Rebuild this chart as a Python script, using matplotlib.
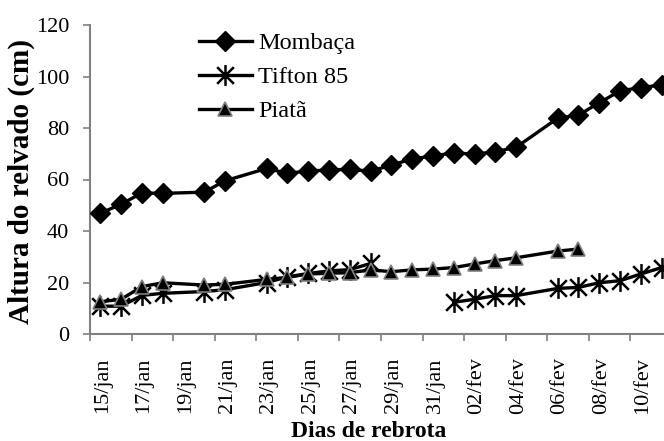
import numpy as np
import matplotlib
matplotlib.use('Agg')
import matplotlib.pyplot as plt
from matplotlib.path import Path

plt.rcParams['font.family'] = ['Liberation Serif', 'DejaVu Serif']

# dia = dias desde 15/jan (categorias diárias 15/jan .. 11/fev)
dia = [0, 1, 2, 3, 5, 6, 8, 9, 10, 11, 12, 13, 14, 15, 16, 17, 18, 19, 20,
       22, 23, 24, 25, 26, 27]
mombaca = [46.9, 50.4, 54.8, 54.6, 55.1, 59.5, 64.3, 62.4, 63.3, 63.7, 64.0, 63.2,
           65.6, 68.0, 69.1, 70.4, 69.8, 70.8, 72.5, 83.8, 85.0, 89.8, 94.4, 95.7, 96.7]
tifton = [10.8, 10.8, 15.0, 15.8, 16.5, 17.2, 20.0, 22.2, 23.5, 24.5, 25.0, 27.4,
          np.nan, np.nan, np.nan, 12.3, 13.5, 14.9, 14.9, 17.7, 18.1, 19.9, 20.7, 23.3, 25.8]
piata = [12.5, 13.5, 18.4, 19.9, 19.0, 19.3, 21.2, 22.0, 23.3, 23.6, 23.8, 24.9,
         24.2, 24.9, 25.2, 25.8, 27.2, 28.5, 29.6, 32.2, 33.0,
         np.nan, np.nan, np.nan, np.nan]
rotulos = ['15/jan', '17/jan', '19/jan', '21/jan', '23/jan', '25/jan', '27/jan',
           '29/jan', '31/jan', '02/fev', '04/fev', '06/fev', '08/fev', '10/fev']
n_dias = 28

# marcador "estrela" do Excel: X + traço vertical
estrela = Path([(-1, -1), (1, 1), (-1, 1), (1, -1), (0, -1.25), (0, 1.25)],
               [Path.MOVETO, Path.LINETO, Path.MOVETO, Path.LINETO, Path.MOVETO, Path.LINETO])

fig = plt.figure(figsize=(6.64, 4.41), dpi=100)
ax = fig.add_axes([90 / 664, 1 - 334 / 441, 582 / 664, 309 / 441])

x = np.array(dia) + 0.5
lw = 2.4
ax.plot(x, mombaca, color='black', lw=lw, marker='D', ms=10, mfc='black', mec='black',
        label='Mombaça', zorder=3)
ax.plot(x, tifton, color='black', lw=lw, marker=estrela, ms=15, mew=1.8,
        mec='black', label='Tifton 85', zorder=4)
ax.plot(x, piata, color='black', lw=lw, marker='^', ms=10, mfc='black', mec='#808080',
        mew=1.2, label='Piatã', zorder=5)

ax.set_xlim(0, n_dias)
ax.set_ylim(0, 120)
ax.set_yticks(range(0, 121, 20))

ax.set_xticks(range(0, n_dias + 1, 2))
ax.set_xticklabels([])
ax.set_xticks(np.arange(len(rotulos)) * 2 + 0.6, minor=True)
ax.set_xticklabels(rotulos, minor=True, rotation=90)
ax.tick_params(axis='x', which='minor', length=0, pad=17, labelsize=16)
ax.tick_params(axis='x', which='major', length=5, color='#808080', width=1.2)
ax.tick_params(axis='y', length=5, color='#808080', width=1.2, pad=10, labelsize=16)

for s in ['top', 'right']:
    ax.spines[s].set_visible(False)
for s in ['left', 'bottom']:
    ax.spines[s].set_color('#808080')
    ax.spines[s].set_linewidth(1.5)

fig.text(369 / 664, 1 - 437 / 441, 'Dias de rebrota', ha='center', va='baseline',
         fontsize=17, fontweight='bold')
fig.text(21 / 664, 1 - 181 / 441, 'Altura do relvado (cm)', ha='center', va='center',
         rotation=90, fontsize=21, fontweight='bold')

leg = ax.legend(loc='upper left', bbox_to_anchor=((199 - 90) / 582, 1 - 7 / 309),
                frameon=False, fontsize=17.5, handlelength=2.18, handletextpad=0.25,
                labelspacing=0.5, borderpad=0, borderaxespad=0)

fig.savefig('out.png', dpi=100)
